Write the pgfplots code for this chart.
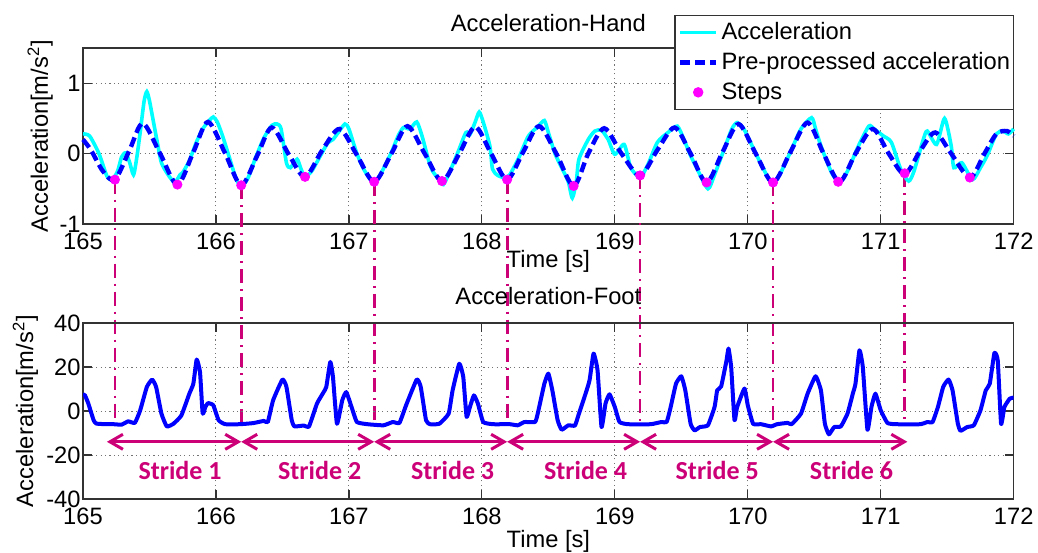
\documentclass[border=0pt]{standalone}
\usepackage{fontspec}
\setmainfont{Liberation Sans}
\newfontfamily\stridefont{Carlito}
\usepackage{pgfplots}
\pgfplotsset{compat=1.18}
\usetikzlibrary{arrows.meta}
\definecolor{stridec}{RGB}{204,0,119}
\definecolor{stepdot}{RGB}{255,0,255}
\definecolor{cyanline}{RGB}{0,255,255}
\definecolor{blueline}{RGB}{0,0,255}
\newcommand{\fs}{\fontsize{11.85}{14}\selectfont}
\pgfplotsset{
  linelegend/.style={legend image code/.code={\draw[##1] (0pt,0pt) -- (18pt,0pt);}},
  marklegend/.style={legend image code/.code={\draw[mark repeat=2,mark phase=2,##1] plot coordinates {(0pt,0pt) (9pt,0pt) (18pt,0pt)};}},
  stepline/.style={stridec, line width=1.4pt, dash pattern=on 7pt off 3pt on 1pt off 3pt, forget plot},
  stridearrow/.style={stridec, line width=1.5pt, {Straight Barb[length=6.5pt,width=7.5pt]}-{Straight Barb[length=6.5pt,width=7.5pt]}},
  myax/.style={
  scale only axis, width=465.35pt, height=88pt,
  xmin=165, xmax=172, xtick={165,...,172},
  grid=major, grid style={dash pattern=on 0.6pt off 1.6pt, black!55, line width=0.5pt},
  axis line style={black!80, line width=0.6pt},
  tick style={black!80, line width=0.6pt}, major tick length=4.5pt, tick align=inside,
  /pgf/number format/assume math mode=true,
  ticklabel style={font=\fs},
  xticklabel style={anchor=center, yshift=-8.5pt},
  yticklabel style={inner sep=1pt},
  label style={font=\fs},
  title style={font=\fs, at={(axis description cs:0.5,1)}, anchor=center},
  xlabel={Time [s]},
  ylabel={Acceleration[m/s\textsuperscript{2}]},
  ylabel style={anchor=center},
  xlabel style={at={(axis description cs:0.5,0)}, anchor=center},
}}
\begin{document}
\fs
\begin{tikzpicture}
\useasboundingbox (0,0) rectangle (519pt,-276pt);
\begin{axis}[myax, at={(41.5pt,-112pt)}, anchor=south west,
  ymin=-1, ymax=1.5, ytick={-1,0,1}, clip=false,
  title={Acceleration-Hand}, title style={yshift=6.3pt},
  xlabel style={yshift=-18.5pt},
  ylabel style={at={(axis description cs:-0.046,0.5)}},
  legend style={at={(axis description cs:1,1.189)}, anchor=north east,
    draw=black!80, line width=0.6pt, fill=white, font=\fs,
    inner xsep=1.5pt, inner ysep=2.5pt, row sep=3pt, column sep=1.6pt,
    nodes={inner sep=0pt, text height=9.5pt, text depth=2.5pt}},
  legend cell align=left]
% step connector lines
\addplot[stepline] coordinates {(165.24,-0.37) (165.24,-3.82)};
\addplot[stepline] coordinates {(166.19,-0.45) (166.19,-3.82)};
\addplot[stepline] coordinates {(167.19,-0.40) (167.19,-3.82)};
\addplot[stepline] coordinates {(168.19,-0.37) (168.19,-3.82)};
\addplot[stepline] coordinates {(169.19,-0.31) (169.19,-3.82)};
\addplot[stepline] coordinates {(170.19,-0.41) (170.19,-3.82)};
\addplot[stepline] coordinates {(171.18,-0.28) (171.18,-3.82)};
% raw acceleration
\addplot[cyanline, line width=1.8pt, smooth, tension=0.4, linelegend] coordinates {
(165.00,0.28) (165.05,0.25) (165.12,0.0) (165.18,-0.32) (165.22,-0.37) (165.26,-0.25)
(165.29,-0.05) (165.32,0.01) (165.35,-0.12) (165.38,-0.30) (165.405,-0.05) (165.43,0.30)
(165.46,0.75) (165.48,0.88) (165.50,0.75) (165.53,0.45) (165.56,0.15) (165.59,-0.13)
(165.64,-0.30) (165.69,-0.41) (165.73,-0.30) (165.75,-0.27) (165.80,-0.10) (165.85,0.15)
(165.90,0.35) (165.95,0.47) (165.98,0.52) (166.01,0.45) (166.05,0.25) (166.10,-0.05)
(166.15,-0.35) (166.19,-0.47) (166.24,-0.35) (166.30,-0.05) (166.36,0.22) (166.42,0.40)
(166.46,0.42) (166.49,0.35) (166.53,-0.13) (166.56,-0.20) (166.61,-0.08) (166.64,-0.22)
(166.67,-0.33) (166.72,-0.25) (166.78,-0.05) (166.84,0.15) (166.88,0.20) (166.92,0.30)
(166.97,0.42) (167.00,0.35) (167.06,0.0) (167.12,-0.25) (167.19,-0.42) (167.25,-0.25)
(167.32,0.02) (167.37,0.25) (167.41,0.37) (167.46,0.35) (167.51,0.45) (167.55,0.25)
(167.60,-0.10) (167.63,-0.25) (167.67,-0.35) (167.71,-0.44) (167.76,-0.25) (167.82,0.02)
(167.88,0.30) (167.91,0.27) (167.95,0.45) (167.98,0.59) (168.01,0.45) (168.06,0.11)
(168.08,-0.22) (168.12,-0.31) (168.17,-0.34) (168.21,-0.30) (168.28,-0.05) (168.35,0.25)
(168.42,0.38) (168.47,0.47) (168.50,0.30) (168.55,0.0) (168.60,-0.20) (168.65,-0.40)
(168.68,-0.63) (168.71,-0.40) (168.73,-0.08) (168.80,0.20) (168.85,0.32) (168.90,0.33)
(168.95,0.20) (169.00,-0.01) (169.07,0.13) (169.12,-0.20) (169.19,-0.34) (169.25,-0.15)
(169.32,0.16) (169.40,0.30) (169.47,0.39) (169.52,0.20) (169.57,-0.03) (169.62,-0.22)
(169.70,-0.50) (169.75,-0.30) (169.82,0.05) (169.88,0.35) (169.92,0.44) (169.97,0.35)
(170.02,0.16) (170.10,-0.15) (170.18,-0.42) (170.24,-0.30) (170.32,0.02) (170.40,0.35)
(170.48,0.51) (170.51,0.35) (170.55,0.11) (170.63,-0.27) (170.69,-0.40) (170.75,-0.25)
(170.83,0.10) (170.91,0.39) (170.95,0.35) (171.02,0.25) (171.08,0.16) (171.15,-0.22)
(171.21,-0.39) (171.25,-0.25) (171.32,0.20) (171.35,0.32) (171.42,0.13) (171.48,0.50)
(171.53,0.11) (171.55,-0.20) (171.61,-0.13) (171.69,-0.37) (171.75,-0.20) (171.80,-0.03)
(171.87,0.28) (171.92,0.32) (171.96,0.28) (172.00,0.35)};
\addlegendentry{Acceleration}
% pre-processed
\addplot[blueline, line width=2.2pt, dash pattern=on 5pt off 2.5pt, smooth, linelegend] coordinates {
(165.00,0.20) (165.06,0.05) (165.15,-0.25) (165.24,-0.37) (165.35,0.05) (165.45,0.43)
(165.58,0.0) (165.71,-0.44) (165.83,0.02) (165.94,0.45) (166.07,0.0) (166.19,-0.45)
(166.31,-0.03) (166.42,0.37) (166.55,-0.02) (166.67,-0.33) (166.80,0.05) (166.93,0.35)
(167.06,-0.02) (167.19,-0.40) (167.32,0.0) (167.44,0.39) (167.57,0.0) (167.70,-0.39)
(167.83,0.0) (167.95,0.38) (168.07,0.0) (168.19,-0.37) (168.31,0.02) (168.43,0.39)
(168.56,0.0) (168.69,-0.46) (168.80,0.0) (168.92,0.36) (169.05,0.0) (169.19,-0.31)
(169.32,0.05) (169.45,0.37) (169.57,0.0) (169.69,-0.41) (169.81,0.02) (169.93,0.42)
(170.06,0.0) (170.19,-0.41) (170.32,0.02) (170.45,0.44) (170.57,0.0) (170.69,-0.40)
(170.81,0.0) (170.94,0.35) (171.06,0.0) (171.18,-0.29) (171.30,0.05) (171.41,0.30)
(171.53,0.0) (171.67,-0.34) (171.78,0.0) (171.87,0.28) (171.95,0.32) (172.00,0.25)};
\addlegendentry{Pre-processed acceleration}
% steps
\addplot[only marks, mark=*, mark size=2.3pt, mark options={fill=stepdot, draw=stepdot}, marklegend] coordinates {
(165.24,-0.37) (165.71,-0.44) (166.19,-0.45) (166.67,-0.33) (167.19,-0.40) (167.70,-0.39)
(168.19,-0.37) (168.69,-0.46) (169.19,-0.31) (169.69,-0.41) (170.19,-0.41) (170.68,-0.40)
(171.18,-0.28) (171.67,-0.34)};
\addlegendentry{Steps}
\end{axis}

\begin{axis}[myax, at={(41.5pt,-249.5pt)}, anchor=south west,
  ymin=-40, ymax=40, ytick={-40,-20,0,20,40},
  title={Acceleration-Foot}, title style={yshift=7.7pt},
  ylabel style={at={(axis description cs:-0.0618,0.5)}},
  xlabel style={yshift=-21pt}]
\addplot[blueline, line width=2pt, line join=round, smooth, tension=0.25] coordinates {
(165.00,7.5) (165.015,7.1) (165.04,3.4) (165.08,-4.2) (165.10,-5.7) (165.17,-6.0)
(165.23,-6.0) (165.29,-6.2) (165.34,-4.7) (165.39,-5.4) (165.43,0.3) (165.48,10.9)
(165.52,14.3) (165.55,10.9) (165.59,-1.2) (165.63,-7.0) (165.68,-5.8) (165.74,-2.0)
(165.80,7.9) (165.83,12.4) (165.855,23.4) (165.88,17.7) (165.90,-1.2) (165.92,1.8)
(165.94,3.6) (165.98,2.6) (166.02,-4.2) (166.07,-6.0) (166.18,-6.0) (166.28,-5.5)
(166.36,-4.5) (166.39,-5.0) (166.43,4.9) (166.50,14.3) (166.53,11.0) (166.57,-4.2)
(166.59,-7.0) (166.66,-6.6) (166.70,-7.0) (166.76,3.4) (166.81,8.6) (166.83,11.0)
(166.86,22.3) (166.88,15.5) (166.91,-5.8) (166.95,4.9) (166.98,8.6) (167.02,1.8)
(167.06,-5.0) (167.14,-6.0) (167.26,-6.5) (167.33,-5.0) (167.38,-5.4) (167.43,2.6)
(167.51,14.3) (167.54,11.0) (167.58,-4.2) (167.61,-6.0) (167.68,-5.8) (167.75,-1.2)
(167.78,9.4) (167.83,21.5) (167.86,15.5) (167.885,-2.7) (167.91,1.8) (167.94,7.1)
(167.97,3.4) (168.01,-5.0) (168.085,-6.0) (168.21,-6.0) (168.27,-6.5) (168.32,-5.0)
(168.40,-5.0) (168.42,-1.2) (168.47,12.4) (168.50,17.0) (168.53,9.4) (168.57,-4.2)
(168.60,-8.5) (168.65,-6.5) (168.70,-6.6) (168.73,-1.2) (168.78,7.9) (168.81,14.0)
(168.84,26.1) (168.87,18.5) (168.90,-7.3) (168.93,3.4) (168.96,7.6) (169.00,1.8)
(169.035,-5.0) (169.10,-6.0) (169.27,-6.0) (169.35,-5.0) (169.39,-5.0) (169.42,1.8)
(169.46,12.4) (169.50,15.8) (169.53,9.4) (169.57,-5.8) (169.60,-8.8) (169.64,-7.3)
(169.70,-6.5) (169.75,1.8) (169.77,9.4) (169.80,11.2) (169.84,23.0) (169.855,28.4)
(169.875,20.0) (169.90,-4.2) (169.92,1.8) (169.975,10.2) (170.00,2.6) (170.04,-5.8)
(170.10,-6.0) (170.175,-7.0) (170.22,-6.0) (170.30,-5.4) (170.33,-6.0) (170.40,-1.2)
(170.45,7.9) (170.51,15.8) (170.55,9.4) (170.58,-5.8) (170.61,-10.6) (170.65,-7.3)
(170.70,-7.0) (170.75,-1.2) (170.79,7.9) (170.81,12.4) (170.84,27.6) (170.865,20.0)
(170.90,-8.5) (170.93,1.8) (170.96,7.9) (171.00,0.3) (171.05,-5.4) (171.11,-6.0)
(171.30,-6.0) (171.35,-5.0) (171.39,-5.0) (171.43,1.8) (171.47,11.0) (171.51,14.3)
(171.54,9.4) (171.58,-5.8) (171.60,-9.0) (171.65,-7.3) (171.70,-6.5) (171.75,0.3)
(171.79,9.4) (171.82,12.4) (171.855,26.4) (171.88,23.0) (171.905,-5.8) (171.93,1.8)
(171.97,5.6) (172.00,6.1)};
% stride arrows
\addplot[stridearrow] coordinates {(165.18,-14) (166.19,-14)};
\addplot[stridearrow] coordinates {(166.19,-14) (167.19,-14)};
\addplot[stridearrow] coordinates {(167.19,-14) (168.19,-14)};
\addplot[stridearrow] coordinates {(168.19,-14) (169.19,-14)};
\addplot[stridearrow] coordinates {(169.19,-14) (170.19,-14)};
\addplot[stridearrow] coordinates {(170.19,-14) (171.20,-14)};
\node[stridec, font=\stridefont\bfseries\fontsize{13}{15}\selectfont] at (axis cs:165.73,-27) {Stride 1};
\node[stridec, font=\stridefont\bfseries\fontsize{13}{15}\selectfont] at (axis cs:166.78,-27) {Stride 2};
\node[stridec, font=\stridefont\bfseries\fontsize{13}{15}\selectfont] at (axis cs:167.78,-27) {Stride 3};
\node[stridec, font=\stridefont\bfseries\fontsize{13}{15}\selectfont] at (axis cs:168.78,-27) {Stride 4};
\node[stridec, font=\stridefont\bfseries\fontsize{13}{15}\selectfont] at (axis cs:169.77,-27) {Stride 5};
\node[stridec, font=\stridefont\bfseries\fontsize{13}{15}\selectfont] at (axis cs:170.78,-27) {Stride 6};
\end{axis}
\end{tikzpicture}
\end{document}
